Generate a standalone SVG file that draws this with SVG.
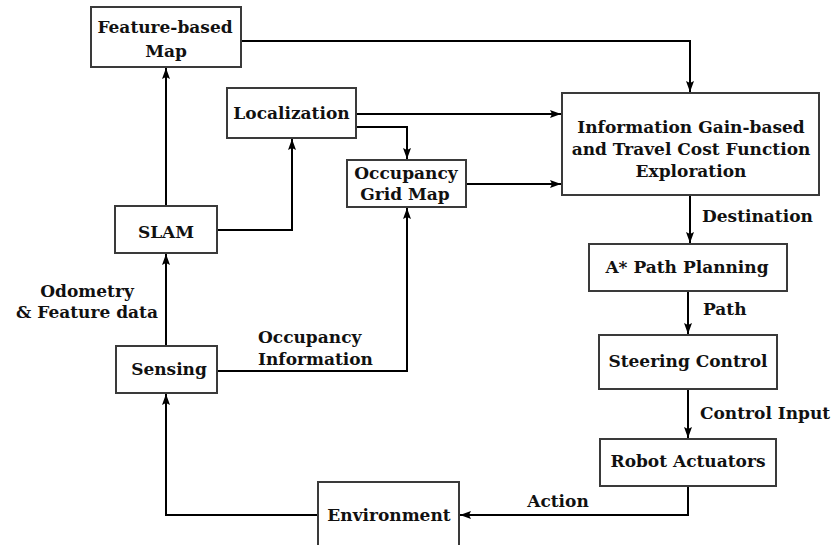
<svg xmlns="http://www.w3.org/2000/svg" width="837" height="545" viewBox="0 0 837 545">
<style>
.box{fill:#fff;stroke:#3a3a3a;stroke-width:2}
.t{font-family:"DejaVu Serif","Liberation Serif",serif;font-weight:bold;font-size:17px;fill:#111}
.c{text-anchor:middle}
.ln{fill:none;stroke:#000;stroke-width:2}
</style>
<defs>
<marker id="ah" markerUnits="userSpaceOnUse" markerWidth="12" markerHeight="10" refX="11" refY="4" orient="auto">
<path d="M0,0 L11,4 L0,8 L2,4 z" fill="#000"/>
</marker>
</defs>
<rect width="837" height="545" fill="#fff"/>
<g id="connectors">
<path class="ln" d="M166,206 V68" marker-end="url(#ah)"/>
<path class="ln" d="M217,230 H292 V139" marker-end="url(#ah)"/>
<path class="ln" d="M166,346 V254" marker-end="url(#ah)"/>
<path class="ln" d="M217,371 H407 V208" marker-end="url(#ah)"/>
<path class="ln" d="M356,114 H561" marker-end="url(#ah)"/>
<path class="ln" d="M356,127 H407 V159" marker-end="url(#ah)"/>
<path class="ln" d="M466,184 H561" marker-end="url(#ah)"/>
<path class="ln" d="M241,41 H690 V92" marker-end="url(#ah)"/>
<path class="ln" d="M690,195 V243" marker-end="url(#ah)"/>
<path class="ln" d="M688,291 V334" marker-end="url(#ah)"/>
<path class="ln" d="M688,389 V438" marker-end="url(#ah)"/>
<path class="ln" d="M688,486 V515 H460" marker-end="url(#ah)"/>
<path class="ln" d="M318,515 H166 V394" marker-end="url(#ah)"/>
<text class="t" x="702" y="222">Destination</text>
<text class="t" x="703" y="315">Path</text>
<text class="t" x="700" y="419">Control Input</text>
<text class="t c" x="558" y="507">Action</text>
<text class="t c" x="87" y="297">Odometry</text>
<text class="t c" x="87" y="318">&amp; Feature data</text>
<text class="t" x="258" y="343">Occupancy</text>
<text class="t" x="258" y="365">Information</text>
</g>
<g id="feature-map">
<rect class="box" x="91" y="7" width="150" height="60"/>
<text class="t c" x="165" y="33">Feature-based</text>
<text class="t c" x="166" y="57">Map</text>
</g>
<g id="localization">
<rect class="box" x="227" y="88" width="129" height="50"/>
<text class="t c" x="291.5" y="119">Localization</text>
</g>
<g id="occupancy-grid-map">
<rect class="box" x="347" y="160" width="119" height="47"/>
<text class="t c" x="406" y="179">Occupancy</text>
<text class="t c" x="405" y="200">Grid Map</text>
</g>
<g id="exploration">
<rect class="box" x="562" y="93" width="257" height="102"/>
<text class="t c" x="691" y="133">Information Gain-based</text>
<text class="t c" x="691" y="155">and Travel Cost Function</text>
<text class="t c" x="691" y="177">Exploration</text>
</g>
<g id="astar">
<rect class="box" x="589" y="244" width="198" height="47"/>
<text class="t c" x="687" y="273">A* Path Planning</text>
</g>
<g id="steering">
<rect class="box" x="599" y="335" width="178" height="54"/>
<text class="t c" x="688" y="367">Steering Control</text>
</g>
<g id="actuators">
<rect class="box" x="600" y="439" width="176" height="47"/>
<text class="t c" x="688" y="467">Robot Actuators</text>
</g>
<g id="environment">
<rect class="box" x="318" y="482" width="141" height="70"/>
<text class="t c" x="389" y="521">Environment</text>
</g>
<g id="slam">
<rect class="box" x="115" y="206" width="102" height="47"/>
<text class="t c" x="166" y="238">SLAM</text>
</g>
<g id="sensing">
<rect class="box" x="116" y="346" width="101" height="47"/>
<text class="t c" x="169" y="375">Sensing</text>
</g>
</svg>
